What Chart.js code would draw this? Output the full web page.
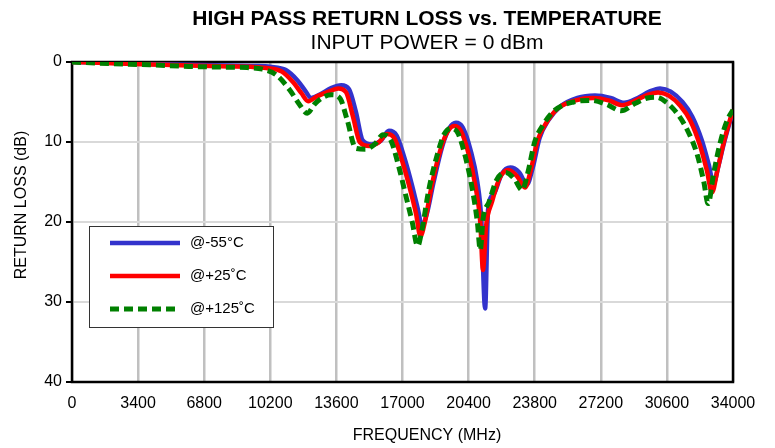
<!DOCTYPE html>
<html>
<head>
<meta charset="utf-8">
<script src="https://cdn.jsdelivr.net/npm/chart.js@4.4.0/dist/chart.umd.min.js"></script>
<style>
  html, body { margin: 0; padding: 0; background: #fff; }
  #wrap { width: 775px; height: 448px; }
</style>
</head>
<body>
<div id="wrap"><canvas id="rlChart" width="775" height="448"></canvas></div>
<script>
// frequency ticks (MHz) and return loss ticks (dB)
const freqTicks = [0, 3400, 6800, 10200, 13600, 17000, 20400, 23800, 27200, 30600, 34000];
const lossTicks = [0, 10, 20, 30, 40];

const seriesNames = ['@-55°C', '@+25˚C', '@+125˚C'];

// @-55°C
const freqM55 = [0, 2000, 4000, 6000, 8000, 9400, 10200, 11000, 11600, 12000, 12300, 12800, 13300, 13850, 14250, 14600, 14950, 15400, 15900, 16300, 16700, 17100, 17500, 17800, 18000, 18250, 18600, 19050, 19400, 19750, 20100, 20500, 20850, 21050, 21250, 21400, 21700, 22100, 22550, 23000, 23400, 23700, 24050, 24500, 25100, 26000, 26900, 27700, 28400, 29100, 29700, 30250, 30800, 31400, 31900, 32400, 32750, 33000, 33250, 33550, 33850, 34000];
const lossM55 = [0, 0.1, 0.25, 0.35, 0.45, 0.5, 0.6, 1.0, 2.3, 3.6, 4.5, 4.0, 3.3, 2.9, 3.4, 6.2, 9.8, 10.3, 9.8, 8.6, 9.2, 12.0, 15.5, 18.5, 20.5, 19.0, 15.0, 10.5, 8.3, 7.6, 8.2, 11.0, 15.0, 19.5, 30.8, 18.5, 16.5, 14.0, 13.2, 13.8, 15.3, 13.2, 9.5, 7.3, 5.6, 4.5, 4.2, 4.5, 5.1, 4.5, 3.7, 3.3, 3.7, 5.0, 6.8, 9.8, 12.8, 15.2, 13.0, 10.0, 7.4, 6.2];

// @+25°C
const freqP25 = [0, 2000, 4000, 6000, 8000, 9200, 10000, 10800, 11400, 11800, 12150, 12600, 13200, 13700, 14100, 14450, 14800, 15300, 15800, 16200, 16600, 17000, 17400, 17700, 17920, 18150, 18500, 18950, 19300, 19650, 20000, 20400, 20750, 21000, 21140, 21300, 21600, 22000, 22450, 22900, 23300, 23600, 23950, 24400, 25000, 25900, 26800, 27600, 28300, 29000, 29600, 30150, 30700, 31300, 31800, 32300, 32650, 32920, 33200, 33500, 33800, 34000];
const lossP25 = [0, 0.15, 0.3, 0.45, 0.55, 0.6, 0.75, 1.2, 2.6, 3.9, 4.9, 4.3, 3.7, 3.3, 3.8, 6.8, 10.0, 10.5, 10.0, 9.0, 9.6, 12.5, 16.0, 19.0, 21.8, 20.0, 15.5, 11.0, 8.8, 8.0, 8.6, 11.5, 15.5, 20.0, 26.0, 20.5, 17.5, 14.5, 13.5, 14.3, 15.7, 13.5, 9.8, 7.6, 5.8, 4.8, 4.5, 4.8, 5.4, 4.8, 4.1, 3.8, 4.2, 5.5, 7.3, 10.4, 13.5, 16.3, 13.5, 10.3, 7.6, 6.0];

// @+125°C
const freqP125 = [0, 2000, 4000, 6000, 8000, 9000, 9800, 10500, 11200, 11700, 12100, 12500, 13000, 13350, 13800, 14150, 14600, 15100, 15600, 16000, 16400, 16800, 17200, 17500, 17780, 18000, 18350, 18800, 19150, 19500, 19850, 20250, 20600, 20850, 21000, 21150, 21450, 21850, 22300, 22750, 23150, 23450, 23800, 24250, 24850, 25800, 26700, 27500, 28250, 28950, 29600, 30050, 30550, 31150, 31650, 32150, 32500, 32720, 33000, 33350, 33700, 34000];
const lossP125 = [0, 0.2, 0.35, 0.55, 0.65, 0.7, 0.9, 1.6, 3.5, 5.3, 6.4, 5.2, 4.3, 4.1, 4.6, 7.2, 10.8, 10.9, 10.2, 9.1, 9.8, 13.0, 17.0, 20.0, 23.0, 21.0, 16.0, 11.5, 9.0, 8.3, 8.9, 12.0, 16.0, 20.0, 23.5, 19.5, 17.5, 14.7, 13.8, 14.6, 16.0, 13.8, 10.0, 7.8, 6.0, 5.0, 4.8, 5.3, 6.1, 5.2, 4.5, 4.4, 5.0, 6.5, 8.5, 11.5, 15.0, 17.7, 14.0, 10.0, 7.3, 6.0];

const FONT = "'Liberation Sans', Arial, sans-serif";

function toPoints(xs, ys) {
    return xs.map((x, i) => ({ x, y: ys[i] }));
}

// titles, axis labels, plot frame and legend box
const decorPlugin = {
    id: 'decor',
    beforeDatasetsDraw(chart) {
        const { ctx, chartArea: a } = chart;
        ctx.save();
        ctx.strokeStyle = '#000';
        ctx.lineWidth = 2.5;
        ctx.strokeRect(a.left, a.top, a.right - a.left, a.bottom - a.top);
        ctx.restore();
    },
    afterDraw(chart) {
        const { ctx } = chart;
        const cx = 427;
        ctx.save();
        ctx.fillStyle = '#000';
        ctx.textAlign = 'center';
        ctx.textBaseline = 'middle';
        ctx.font = 'bold 21px ' + FONT;
        ctx.fillText('HIGH PASS RETURN LOSS vs. TEMPERATURE', cx, 19);
        ctx.font = '21px ' + FONT;
        ctx.fillText('INPUT POWER = 0 dBm', cx, 43);
        ctx.font = '16px ' + FONT;
        ctx.fillText('FREQUENCY (MHz)', cx, 436);

        // y axis title (sits a bit above the plot centre, like the original)
        ctx.save();
        ctx.translate(22, 205);
        ctx.rotate(-Math.PI / 2);
        ctx.fillText('RETURN LOSS (dB)', 0, 0);
        ctx.restore();

        // legend box
        const bx = 89, by = 226, bw = 184, bh = 101;
        ctx.fillStyle = '#fff';
        ctx.fillRect(bx, by, bw, bh);
        ctx.strokeStyle = '#333';
        ctx.lineWidth = 1;
        ctx.strokeRect(bx + 0.5, by + 0.5, bw, bh);
        const rows = [243, 276, 309];
        chart.data.datasets.forEach((ds, i) => {
            ctx.beginPath();
            ctx.strokeStyle = ds.borderColor;
            ctx.lineWidth = ds.borderWidth;
            ctx.setLineDash(ds.borderDash || []);
            ctx.moveTo(110, rows[i]);
            ctx.lineTo(180, rows[i]);
            ctx.stroke();
            ctx.setLineDash([]);
            ctx.fillStyle = '#000';
            ctx.textAlign = 'left';
            ctx.font = '15px ' + FONT;
            ctx.fillText(ds.label, 190, rows[i]);
        });
        ctx.restore();
    }
};

window.addEventListener('DOMContentLoaded', () => {
    const ctx = document.getElementById('rlChart').getContext('2d');
    new Chart(ctx, {
        type: 'line',
        data: {
            datasets: [
                {
                    label: seriesNames[0],
                    data: toPoints(freqM55, lossM55),
                    borderColor: '#3333cc',
                    borderWidth: 4.5,
                    order: 3
                },
                {
                    label: seriesNames[1],
                    data: toPoints(freqP25, lossP25),
                    borderColor: '#ff0000',
                    borderWidth: 4.5,
                    order: 2
                },
                {
                    label: seriesNames[2],
                    data: toPoints(freqP125, lossP125),
                    borderColor: '#008000',
                    borderWidth: 5,
                    borderDash: [9, 5],
                    order: 1
                }
            ]
        },
        options: {
            responsive: false,
            animation: false,
            layout: { padding: { left: 0, right: 42, top: 62, bottom: 0 } },
            elements: {
                point: { radius: 0 },
                line: { cubicInterpolationMode: 'monotone', fill: false }
            },
            plugins: {
                legend: { display: false },
                tooltip: { enabled: false }
            },
            scales: {
                x: {
                    type: 'linear',
                    min: 0,
                    max: 34000,
                    afterBuildTicks: (scale) => { scale.ticks = freqTicks.map(v => ({ value: v })); },
                    afterFit: (scale) => { scale.height = 66; },
                    grid: { color: '#c0c0c0', lineWidth: 2.5, drawTicks: false },
                    border: { display: false },
                    ticks: {
                        color: '#000',
                        font: { family: FONT, size: 16 },
                        padding: 12,
                        maxRotation: 0,
                        autoSkip: false,
                        callback: (v) => String(v)
                    }
                },
                y: {
                    type: 'linear',
                    reverse: true,
                    min: 0,
                    max: 40,
                    afterBuildTicks: (scale) => { scale.ticks = lossTicks.map(v => ({ value: v })); },
                    afterFit: (scale) => { scale.width = 72; },
                    grid: { color: '#d9d9d9', lineWidth: 2, tickLength: 6, tickColor: '#000', tickWidth: 2 },
                    border: { display: false },
                    ticks: {
                        color: '#000',
                        font: { family: FONT, size: 16 },
                        padding: 4
                    }
                }
            }
        },
        plugins: [decorPlugin]
    });
});
</script>
</body>
</html>
